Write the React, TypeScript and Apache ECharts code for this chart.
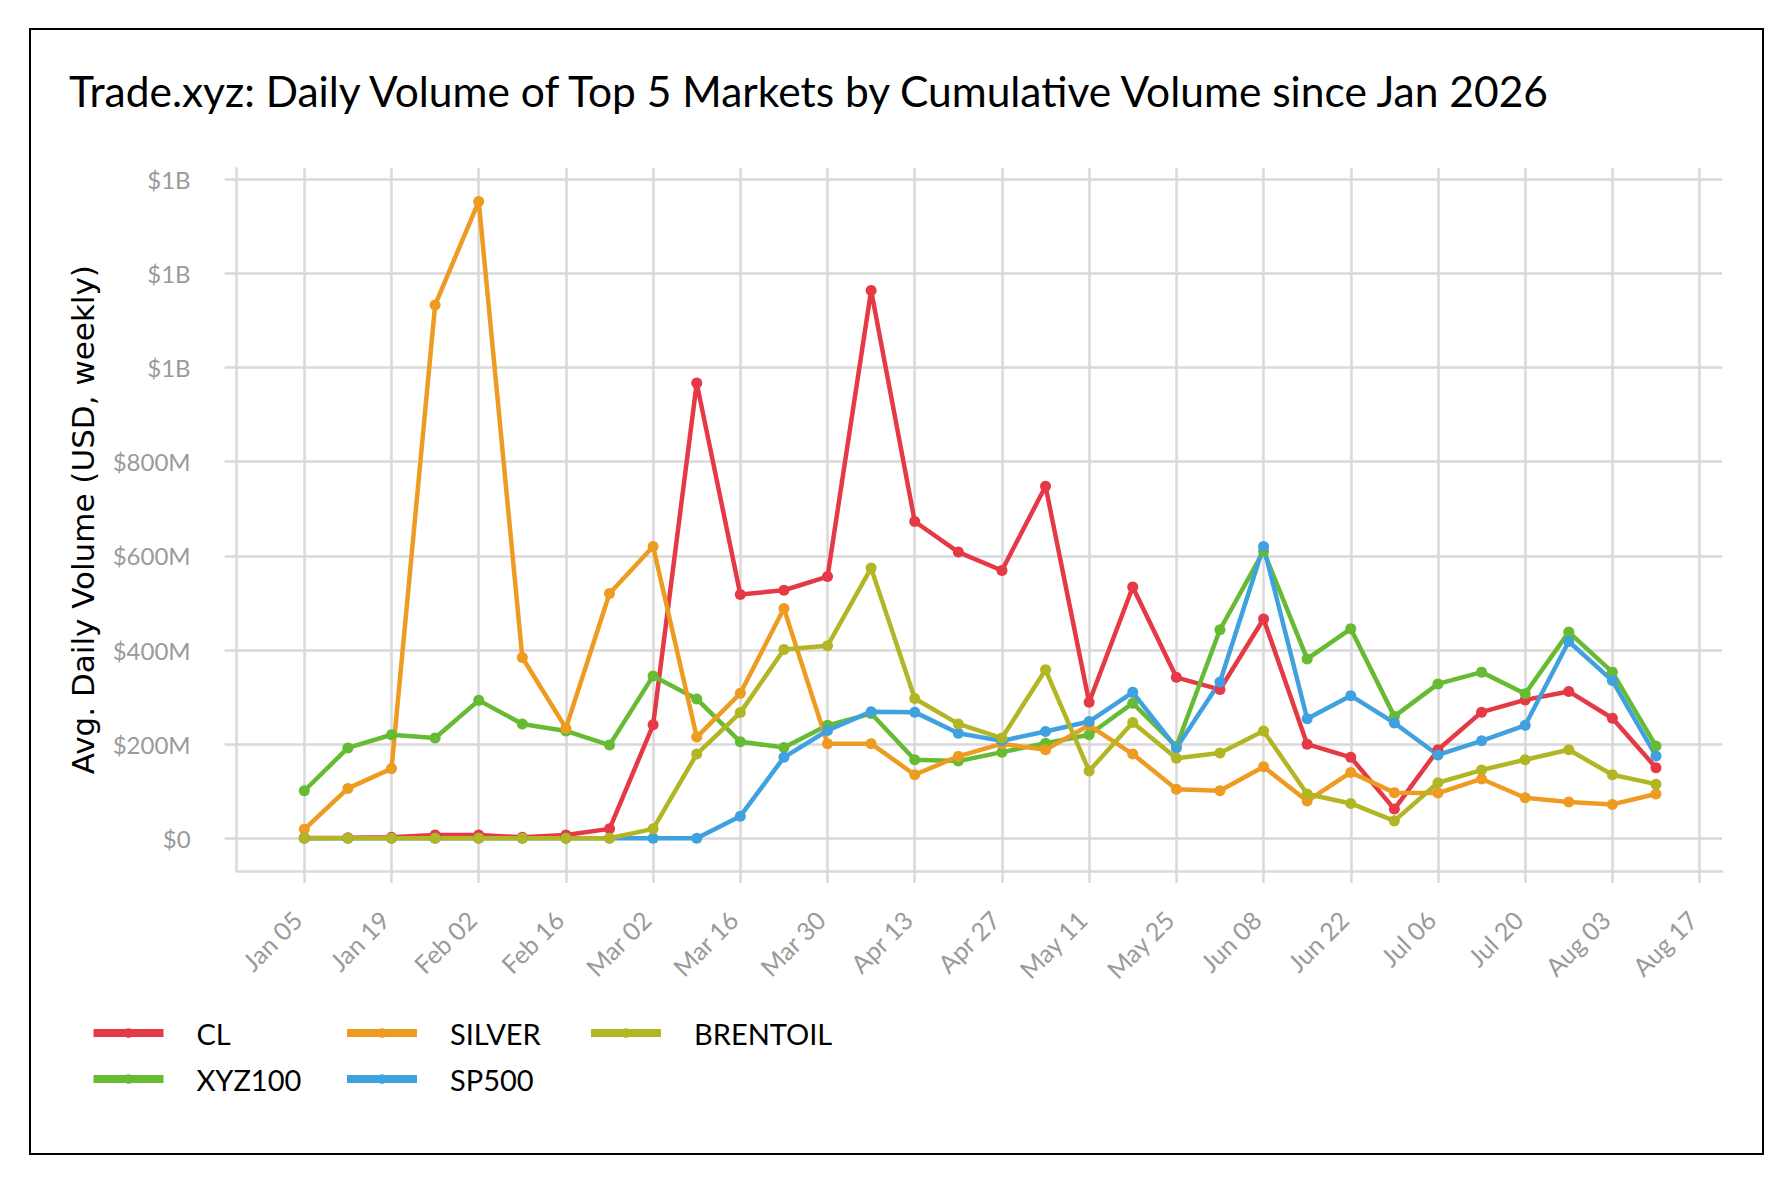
import React, { useEffect, useRef } from "react";
import * as echarts from "echarts";

const weeks = [
  "Jan 05", "Jan 12", "Jan 19", "Jan 26", "Feb 02", "Feb 09", "Feb 16", "Feb 23",
  "Mar 02", "Mar 09", "Mar 16", "Mar 23", "Mar 30", "Apr 06", "Apr 13", "Apr 20",
  "Apr 27", "May 04", "May 11", "May 18", "May 25", "Jun 01", "Jun 08", "Jun 15",
  "Jun 22", "Jun 29", "Jul 06", "Jul 13", "Jul 20", "Jul 27", "Aug 03", "Aug 10",
];

const xTickLabels = [
  "Jan 05", "Jan 19", "Feb 02", "Feb 16", "Mar 02", "Mar 16", "Mar 30", "Apr 13", "Apr 27",
  "May 11", "May 25", "Jun 08", "Jun 22", "Jul 06", "Jul 20", "Aug 03", "Aug 17",
];

const yTickValues = [0, 200e6, 400e6, 600e6, 800e6, 1000e6, 1200e6, 1400e6];

// values in millions of USD, one per week in `weeks`
const CL = [0.5, 1, 2, 7, 7, 2, 7, 20, 241, 967, 518, 527, 556, 1164, 673, 608, 569, 748, 289, 534, 342, 316, 466, 200, 172, 62, 188, 268, 294, 312, 255, 150];
const XYZ100 = [101, 192, 220, 213, 293, 243, 228, 198, 345, 296, 205, 193, 240, 265, 167, 164, 183, 202, 220, 287, 195, 443, 610, 381, 445, 259, 328, 353, 307, 438, 353, 196];
const SILVER = [19, 106, 148, 1133, 1353, 384, 234, 520, 620, 215, 308, 488, 201, 201, 135, 174, 201, 188, 240, 179, 104, 101, 152, 79, 140, 97, 96, 126, 86, 77, 72, 94];
const SP500 = [0, 0, 0, 0, 0, 0, 0, 0, 0, 0, 47, 172, 229, 269, 268, 223, 207, 227, 248, 310, 192, 332, 620, 254, 303, 245, 177, 207, 240, 418, 335, 175];
const BRENTOIL = [0, 0, 0, 0, 0, 0, 0, 0, 20, 179, 267, 401, 409, 574, 297, 243, 213, 358, 143, 246, 170, 181, 228, 94, 74, 37, 118, 145, 167, 188, 135, 115];

const seriesDefs = [
  { name: "CL", values: CL, color: "#E63946" },
  { name: "XYZ100", values: XYZ100, color: "#67BB33" },
  { name: "SILVER", values: SILVER, color: "#EE9B22" },
  { name: "SP500", values: SP500, color: "#3FA2DE" },
  { name: "BRENTOIL", values: BRENTOIL, color: "#B3B624" },
];

const GRID = "#d9d9d9";
const TICK_GREY = "#9a9a9a";
const FONT = "Lato, 'Noto Sans', sans-serif";

function dayOfWeek(i: number) {
  return i * 7;
}

function fmtY(v: number) {
  if (v === 0) return "$0";
  if (v >= 1e9) return "$" + Math.round(v / 1e9) + "B";
  return "$" + Math.round(v / 1e6) + "M";
}

export default function App() {
  const ref = useRef<HTMLDivElement>(null);

  useEffect(() => {
    document.body.style.margin = "0";
    const chart = echarts.init(ref.current!, undefined, { renderer: "svg" });
    const xTickValues = xTickLabels.map((_, i) => i * 14);
    const labelMap: Record<number, string> = {};
    xTickLabels.forEach((l, i) => (labelMap[i * 14] = l));

    const legendBase = {
      orient: "vertical" as const,
      top: 1018,
      padding: 0,
      itemWidth: 70,
      itemHeight: 12,
      itemGap: 16,
      lineStyle: { width: 8 },
      textStyle: {
        fontFamily: FONT,
        fontSize: 29,
        color: "#000",
        lineHeight: 30,
        padding: [0, 0, 0, 28],
      },
    };

    chart.setOption({
      animation: false,
      backgroundColor: "#fff",
      title: {
        text: "Trade.xyz: Daily Volume of Top 5 Markets by Cumulative Volume since Jan 2026",
        left: 64,
        top: 64,
        textStyle: { fontFamily: FONT, fontSize: 42.5, fontWeight: "normal", color: "#000" },
      },
      graphic: [
        {
          type: "rect",
          shape: { x: 30, y: 29, width: 1733, height: 1125 },
          style: { fill: "none", stroke: "#000", lineWidth: 2 },
          silent: true,
        },
      ],
      legend: [
        { ...legendBase, left: 89.5, data: ["CL", "XYZ100"] },
        { ...legendBase, left: 343, data: ["SILVER", "SP500"] },
        { ...legendBase, left: 587, data: ["BRENTOIL"] },
      ],
      grid: { left: 236.6, right: 70, top: 168.3, bottom: 313, containLabel: false },
      xAxis: {
        type: "value",
        min: -10.87,
        max: 227.6,
        axisLine: { show: true, onZero: false, lineStyle: { color: GRID, width: 2.5 } },
        axisTick: { show: true, length: 12, customValues: xTickValues, lineStyle: { color: GRID, width: 2.5 } },
        axisLabel: {
          customValues: xTickValues,
          formatter: (v: number) => labelMap[Math.round(v)] ?? "",
          rotate: 45,
          margin: 37,
          padding: [0, 10, 0, 0],
          fontSize: 25,
          fontFamily: FONT,
          color: TICK_GREY,
        },
        splitLine: { show: true, lineStyle: { color: GRID, width: 2.5 } },
      },
      yAxis: {
        type: "value",
        min: -69.5e6,
        max: 1423.4e6,
        name: "Avg. Daily Volume (USD, weekly)",
        nameLocation: "middle",
        nameGap: 138,
        nameTextStyle: { fontFamily: "'DejaVu Sans', sans-serif", fontSize: 31, color: "#000" },
        axisLine: { show: true, onZero: false, lineStyle: { color: GRID, width: 2.5 } },
        axisTick: { show: true, length: 12, customValues: yTickValues, lineStyle: { color: GRID, width: 2.5 } },
        axisLabel: {
          customValues: yTickValues,
          formatter: fmtY,
          margin: 46,
          fontSize: 24,
          fontFamily: FONT,
          color: TICK_GREY,
        },
        splitLine: { show: true, lineStyle: { color: GRID, width: 2.5 } },
      },
      series: seriesDefs.map((s) => ({
        name: s.name,
        type: "line",
        data: s.values.map((v, i) => [dayOfWeek(i), v * 1e6]),
        symbol: "circle",
        symbolSize: 11,
        showSymbol: true,
        color: s.color,
        lineStyle: { width: 4.5, color: s.color },
        itemStyle: { color: s.color },
        emphasis: { disabled: true },
      })),
    });
    return () => chart.dispose();
  }, []);

  return <div ref={ref} style={{ width: 1792, height: 1184 }} />;
}
